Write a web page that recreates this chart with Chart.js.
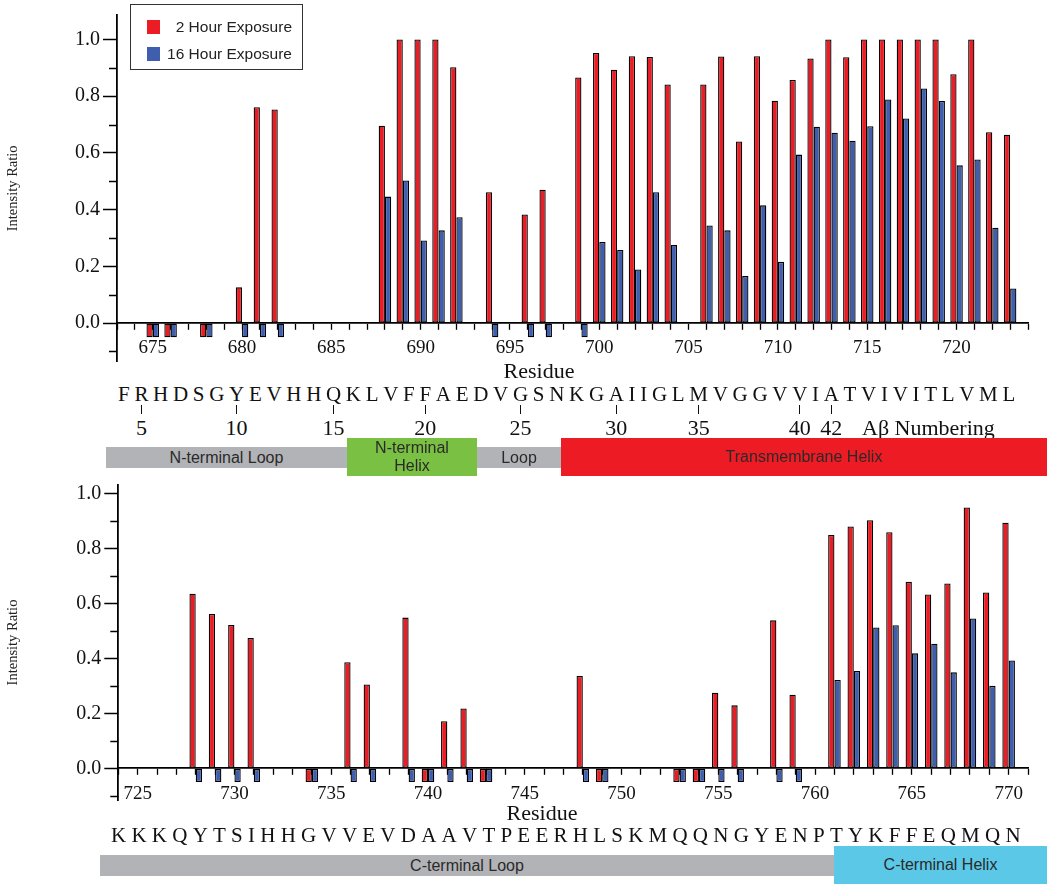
<!DOCTYPE html>
<html>
<head>
<meta charset="utf-8">
<script src="https://cdn.jsdelivr.net/npm/chart.js@4.4.1/dist/chart.umd.min.js"></script>
<style>
  html, body { margin: 0; padding: 0; background: #fff; }
  #pagina { position: relative; width: 1050px; height: 889px; overflow: hidden; font-family: 'Liberation Serif', 'Times New Roman', serif; color: #111; }
  canvas { position: absolute; left: 0; }
  .seq { position: absolute; display: flex; justify-content: space-between; font-size: 21px; line-height: 21px; height: 21px; }
  .seq span { position: relative; }
  .marca { position: absolute; left: 50%; width: 1.4px; margin-left: -0.7px; height: 9px; background: #111; }
  .num { position: absolute; left: 50%; transform: translateX(-50%); font-size: 22px; line-height: 22px; white-space: nowrap; }
  .dominio { position: absolute; display: flex; align-items: center; justify-content: center; text-align: center; font-family: 'Liberation Sans', Arial, sans-serif; font-size: 16px; line-height: 18px; color: #2a2a2a; }
  .titulo-x { position: absolute; font-size: 22px; line-height: 22px; transform: translateX(-50%); white-space: nowrap; }
  #legenda { position: absolute; left: 130px; top: 4px; width: 171px; height: 64px; border: 1.5px solid #333; font-family: 'Liberation Sans', Arial, sans-serif; font-size: 15.5px; color: #222; }
  #legenda .item { position: absolute; left: 0; right: 0; height: 14px; }
  #legenda .quad { position: absolute; left: 16px; top: 0; width: 13px; height: 14px; }
  #legenda .txt { position: absolute; right: 10px; top: 0; line-height: 14px; white-space: nowrap; }
</style>
</head>
<body>
<div id="pagina">
  <canvas id="grafico-topo" width="1050" height="380" style="top:0px"></canvas>
  <canvas id="grafico-base" width="1050" height="345" style="top:470px"></canvas>
  <div id="legenda"></div>
  <div id="anotacoes"></div>
</div>
<script>
const seriesNames = ['2 Hour Exposure', '16 Hour Exposure'];
const seriesColors = ['#ec1c24', '#3f5fae'];

// painel superior (resíduos 675-723), -0.05 = sem sinal
const topResidues = [675, 676, 678, 680, 681, 682, 688, 689, 690, 691, 692, 694, 696, 697, 699,
    700, 701, 702, 703, 704, 706, 707, 708, 709, 710, 711, 712, 713, 714, 715, 716, 717, 718, 719, 720, 721, 722, 723];
const top2h = [-0.05, -0.05, -0.05, 0.126, 0.761, 0.753, 0.696, 1.0, 1.0, 1.0, 0.902, 0.461, 0.383, 0.470, 0.866,
    0.952, 0.893, 0.941, 0.938, 0.841, 0.841, 0.940, 0.640, 0.941, 0.784, 0.857, 0.933, 1.0, 0.937, 1.0, 1.0, 1.0, 1.0, 1.0, 0.877, 1.0, 0.673, 0.664];
const top16h = [-0.05, -0.05, -0.05, -0.05, -0.05, -0.05, 0.446, 0.503, 0.291, 0.327, 0.373, -0.05, -0.05, -0.05, -0.05,
    0.286, 0.258, 0.189, 0.461, 0.275, 0.344, 0.327, 0.166, 0.415, 0.216, 0.594, 0.692, 0.671, 0.643, 0.694, 0.788, 0.721, 0.827, 0.783, 0.556, 0.577, 0.336, 0.122];

// painel inferior (resíduos 724-770)
const botResidues = [728, 729, 730, 731, 734, 736, 737, 739, 740, 741, 742, 743, 748, 749, 753, 754, 755, 756, 758, 759,
    761, 762, 763, 764, 765, 766, 767, 768, 769, 770];
const bot2h = [0.635, 0.561, 0.521, 0.474, -0.05, 0.386, 0.305, 0.548, -0.05, 0.171, 0.218, -0.05, 0.336, -0.05, -0.05, -0.05, 0.275, 0.229, 0.538, 0.268,
    0.848, 0.879, 0.902, 0.858, 0.678, 0.632, 0.672, 0.948, 0.639, 0.893];
const bot16h = [-0.05, -0.05, -0.05, -0.05, -0.05, -0.05, -0.05, -0.05, -0.05, -0.05, -0.05, -0.05, -0.05, -0.05, -0.05, -0.05, -0.05, -0.05, -0.05, -0.05,
    0.321, 0.354, 0.512, 0.520, 0.418, 0.453, 0.349, 0.545, 0.300, 0.392];

const topSequence = 'FRHDSGYEVHHQKLVFFAEDVGSNKGAIIGLMVGGVVIATVIVITLVML'.split('');
const botSequence = 'KKKQYTSIHHGVVEVDAAVTPEERHLSKMQQNGYENPTYKFFEQMQN'.split('');
const abetaTicks = [5, 10, 15, 20, 25, 30, 35, 40, 42];
const abetaFirst = 4; // F = Aβ4

const topDomains = ['N-terminal Loop', 'N-terminal<br>Helix', 'Loop', 'Transmembrane Helix'];
const botDomains = ['C-terminal Loop', 'C-terminal Helix'];

const yMinorTicks = [-0.1, 0.1, 0.3, 0.5, 0.7, 0.9];

Chart.defaults.font.family = "'Liberation Serif', 'Times New Roman', serif";
Chart.defaults.color = '#111';

const minorTicks = {
    id: 'minorTicks',
    afterDraw(chart) {
        const y = chart.scales.y;
        const ctx = chart.ctx;
        ctx.save();
        ctx.strokeStyle = '#000';
        ctx.lineWidth = 1.5;
        yMinorTicks.forEach(v => {
            if (v < y.min || v > y.max) return;
            const py = Math.round(y.getPixelForValue(v)) + 0.5;
            ctx.beginPath();
            ctx.moveTo(y.right - 8, py);
            ctx.lineTo(y.right, py);
            ctx.stroke();
        });
        ctx.restore();
    }
};

function criarPainel(canvasId, residues, vals2h, vals16h, cfg) {
    const canvas = document.getElementById(canvasId);
    const datasets = [vals2h, vals16h].map((vals, i) => ({
        label: seriesNames[i],
        data: residues.map((r, j) => ({ x: r, y: vals[j] })),
        backgroundColor: seriesColors[i],
        borderColor: '#000',
        borderWidth: 1.3,
        borderSkipped: false,
        categoryPercentage: cfg.catPct,
        barPercentage: 1.0
    }));

    return new Chart(canvas.getContext('2d'), {
        type: 'bar',
        data: { datasets },
        options: {
            responsive: false, animation: false,
            layout: { padding: { top: cfg.top, right: 22, bottom: canvas.height - cfg.bottom, left: 0 } },
            plugins: { legend: { display: false }, tooltip: { enabled: false } },
            scales: {
                x: {
                    type: 'linear', position: { y: 0 }, min: cfg.xMin, max: cfg.xMax, offset: false,
                    afterFit: s => { s.height = 0; },
                    ticks: { stepSize: 1, autoSkip: false, maxRotation: 0, padding: 8, font: { size: 19 }, color: '#111',
                        callback: v => v % 5 === 0 ? String(v) : '' },
                    grid: { drawOnChartArea: false, offset: false, tickLength: 6, tickWidth: 1.3, tickColor: '#000' },
                    border: { color: '#000', width: 1.8 }
                },
                y: {
                    min: cfg.yMin, max: cfg.yMax,
                    afterFit: s => { s.width = cfg.left; },
                    title: { display: true, text: 'Intensity Ratio', font: { size: 14.5 }, color: '#222', padding: { top: 4, bottom: 0 } },
                    ticks: { stepSize: 0.2, includeBounds: false, padding: 3, font: { size: 20 }, color: '#111', callback: v => v.toFixed(1) },
                    grid: { drawOnChartArea: false, tickLength: 14, tickWidth: 1.5, tickColor: '#000' },
                    border: { color: '#000', width: 1.8 }
                }
            }
        },
        plugins: [minorTicks]
    });
}

criarPainel('grafico-topo', topResidues, top2h, top16h,
    { xMin: 673, xMax: 724, yMin: -0.136, yMax: 1.086, top: 6.7, bottom: 361.7, left: 117, catPct: 0.7 });
criarPainel('grafico-base', botResidues, bot2h, bot16h,
    { xMin: 724, xMax: 771, yMin: -0.115, yMax: 1.03, top: 6.7, bottom: 330.9, left: 118.3, catPct: 0.65 });

// legenda
document.getElementById('legenda').innerHTML = seriesNames.map((nome, i) => `
    <div class="item" style="top:${14.5 + i * 27.8}px">
        <div class="quad" style="background:${seriesColors[i]}"></div>
        <div class="txt">${nome}</div>
    </div>`).join('');

// sequências e numeração Aβ
function linhaSequencia(letras, left, width, top, comAbeta) {
    const spans = letras.map((l, i) => {
        const ab = i + abetaFirst;
        let extra = '';
        if (comAbeta && abetaTicks.includes(ab)) {
            extra = `<div class="marca" style="top:20.6px"></div><div class="num" style="top:32.2px">${ab}</div>`;
        }
        return `<span>${l}${extra}</span>`;
    }).join('');
    return `<div class="seq" style="left:${left}px;width:${width}px;top:${top}px">${spans}</div>`;
}

const cinza = '#b2b3b6';
const caixasTopo = [
    { left: 106, right: 347, top: 447, bottom: 468, cor: cinza },
    { left: 347, right: 477, top: 438, bottom: 476, cor: '#7ac143' },
    { left: 477, right: 561, top: 447, bottom: 468, cor: cinza },
    { left: 561, right: 1047, top: 438, bottom: 476, cor: '#ed1c24' }
];
const caixasBase = [
    { left: 100, right: 834, top: 855, bottom: 876, cor: cinza },
    { left: 834, right: 1047, top: 846, bottom: 884, cor: '#5bc8e8' }
];
function caixas(nomes, geo) {
    return nomes.map((n, i) => {
        const g = geo[i];
        return `<div class="dominio" style="left:${g.left}px;top:${g.top}px;width:${g.right - g.left}px;height:${g.bottom - g.top}px;background:${g.cor}">${n}</div>`;
    }).join('');
}

document.getElementById('anotacoes').innerHTML =
    `<div class="titulo-x" style="left:539px;top:360px">Residue</div>` +
    linhaSequencia(topSequence, 118, 898, 384.4, true) +
    `<div class="num" style="left:862px;top:416.6px;transform:none">Aβ Numbering</div>` +
    caixas(topDomains, caixasTopo) +
    `<div class="titulo-x" style="left:542px;top:802px">Residue</div>` +
    linhaSequencia(botSequence, 111, 910, 825.4, false) +
    caixas(botDomains, caixasBase);
</script>
</body>
</html>
